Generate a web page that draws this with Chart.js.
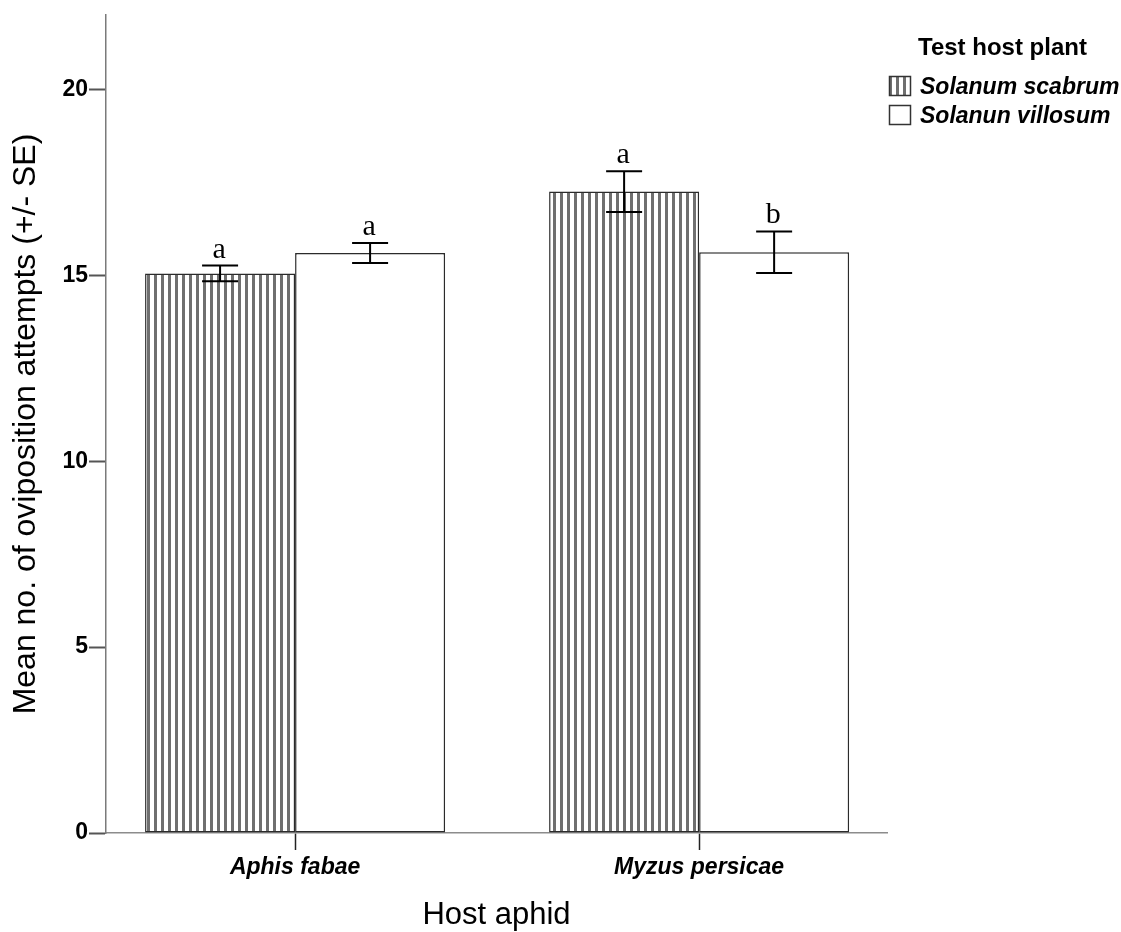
<!DOCTYPE html>
<html>
<head>
<meta charset="utf-8">
<script src="https://cdn.jsdelivr.net/npm/chart.js@4/dist/chart.umd.min.js"></script>
<style>
  html, body { margin: 0; padding: 0; background: #fff; }
</style>
</head>
<body>
<canvas id="chart" width="1121" height="932"></canvas>
<script>
// Host aphid groups on the x axis, test host plants as the two series
const hostAphids = ['Aphis fabae', 'Myzus persicae'];
const testPlants = ['Solanum scabrum', 'Solanun villosum'];

// mean no. of oviposition attempts and standard errors
const scabrumMeans = [15.05, 17.25];
const scabrumSE = [0.21, 0.55];
const villosumMeans = [15.6, 15.62];
const villosumSE = [0.27, 0.56];

// significance letters above each bar
const scabrumLetters = ['a', 'a'];
const villosumLetters = ['a', 'b'];

const yTicks = [0, 5, 10, 15, 20];

const SANS = '"Liberation Sans", Arial, sans-serif';
const SERIF = '"Liberation Serif", "Times New Roman", serif';

const canvas = document.getElementById('chart');
const ctx = canvas.getContext('2d');

// vertical hatch fill for the S. scabrum bars
function stripePattern() {
  const c = document.createElement('canvas');
  c.width = 7;
  c.height = 7;
  const g = c.getContext('2d');
  g.fillStyle = '#ffffff';
  g.fillRect(0, 0, 7, 7);
  g.fillStyle = '#6f6f6f';
  g.fillRect(0, 0, 3, 7);
  return ctx.createPattern(c, 'repeat');
}

const toPoints = vals => vals.map((v, i) => ({ x: i + 1, y: v }));

// error bars with caps, then the letter above each bar
const errorBars = {
  id: 'errorBars',
  afterDatasetsDraw(chart) {
    const c = chart.ctx;
    const y = chart.scales.y;
    chart.data.datasets.forEach((ds, di) => {
      const meta = chart.getDatasetMeta(di);
      meta.data.forEach((bar, i) => {
        const mean = ds.data[i].y;
        const top = y.getPixelForValue(mean + ds.se[i]);
        const bot = y.getPixelForValue(mean - ds.se[i]);
        c.save();
        c.strokeStyle = '#000';
        c.lineWidth = 2;
        c.beginPath();
        c.moveTo(bar.x, top); c.lineTo(bar.x, bot);
        c.moveTo(bar.x - 18, top); c.lineTo(bar.x + 18, top);
        c.moveTo(bar.x - 18, bot); c.lineTo(bar.x + 18, bot);
        c.stroke();
        c.fillStyle = '#000';
        c.font = '30px ' + SERIF;
        c.textAlign = 'center';
        c.textBaseline = 'alphabetic';
        c.fillText(ds.letters[i], bar.x - 1, top - 8);
        c.restore();
      });
    });
  }
};

// legend in the top right corner
const plantLegend = {
  id: 'plantLegend',
  afterDraw(chart) {
    const c = chart.ctx;
    c.save();
    c.fillStyle = '#000';
    c.textAlign = 'left';
    c.textBaseline = 'middle';
    c.font = 'bold 24px ' + SANS;
    c.fillText('Test host plant', 918, 48);
    chart.data.datasets.forEach((ds, i) => {
      const cy = 86 + i * 29;
      c.fillStyle = ds.backgroundColor;
      c.fillRect(889, cy - 10, 22, 20);
      c.strokeStyle = '#333';
      c.lineWidth = 1.5;
      c.strokeRect(889.5, cy - 9.5, 21, 19);
      c.fillStyle = '#000';
      c.font = 'italic bold 23px ' + SANS;
      c.fillText(ds.label, 920, cy + 2);
    });
    c.restore();
  }
};

new Chart(canvas, {
  type: 'bar',
  data: {
    datasets: [
      {
        label: testPlants[0],
        data: toPoints(scabrumMeans),
        se: scabrumSE,
        letters: scabrumLetters,
        backgroundColor: stripePattern(),
        borderColor: '#2b2b2b',
        borderWidth: 1.5,
        borderSkipped: false
      },
      {
        label: testPlants[1],
        data: toPoints(villosumMeans),
        se: villosumSE,
        letters: villosumLetters,
        backgroundColor: '#ffffff',
        borderColor: '#2b2b2b',
        borderWidth: 1.5,
        borderSkipped: false
      }
    ]
  },
  options: {
    responsive: false,
    animation: false,
    devicePixelRatio: 1,
    categoryPercentage: 0.7426,
    barPercentage: 1,
    layout: { padding: { top: 15, right: 234, left: 0, bottom: 0 } },
    plugins: {
      legend: { display: false },
      tooltip: { enabled: false }
    },
    scales: {
      x: {
        type: 'linear',
        min: 0.532,
        max: 2.465,
        offset: false,
        afterBuildTicks: scale => {
          scale.ticks = hostAphids.map((_, i) => ({ value: i + 1 }));
        },
        afterFit: scale => { scale.height = 99; },
        grid: {
          offset: false,
          drawOnChartArea: false,
          drawTicks: true,
          tickLength: 17,
          tickColor: '#222',
          tickWidth: 1.5
        },
        border: { color: '#8c8c8c', width: 1.5 },
        ticks: {
          color: '#000',
          padding: 4,
          maxRotation: 0,
          font: { family: SANS, size: 23, weight: 'bold', style: 'italic' },
          callback: v => hostAphids[v - 1]
        },
        title: {
          display: true,
          text: 'Host aphid',
          color: '#000',
          font: { family: SANS, size: 31, lineHeight: 1 },
          padding: { top: 0, bottom: 1 }
        }
      },
      y: {
        min: 0,
        max: 22,
        afterBuildTicks: scale => {
          scale.ticks = yTicks.map(v => ({ value: v }));
        },
        afterFit: scale => { scale.width = 106; },
        grid: {
          drawOnChartArea: false,
          drawTicks: true,
          tickLength: 17,
          tickColor: '#555',
          tickWidth: 2
        },
        border: { color: '#7a7a7a', width: 1.5 },
        ticks: {
          color: '#000',
          padding: 1,
          font: { family: SANS, size: 23, weight: 'bold' }
        },
        title: {
          display: true,
          text: 'Mean no. of oviposition attempts (+/- SE)',
          color: '#000',
          font: { family: SANS, size: 32, lineHeight: 1 },
          padding: { top: 10, bottom: 0 }
        }
      }
    }
  },
  plugins: [errorBars, plantLegend]
});
</script>
</body>
</html>
